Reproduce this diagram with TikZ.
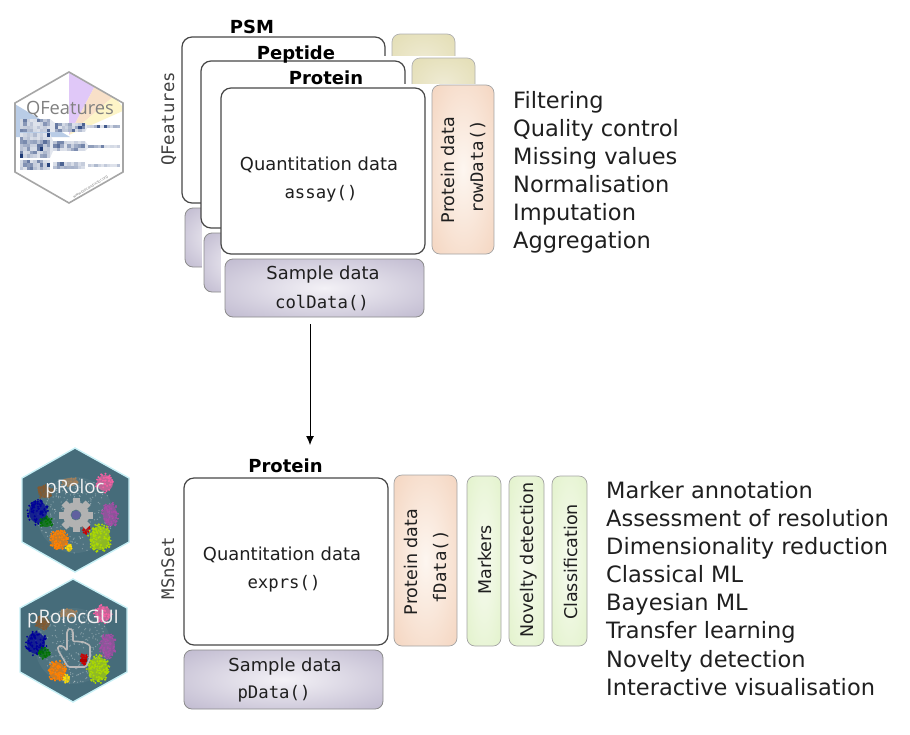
\documentclass[tikz,border=0pt]{standalone}
\usepackage{fontspec}
\setmainfont{DejaVu Sans}
\setmonofont{DejaVu Sans Mono}
\newfontfamily\logofont{Open Sans}
\usetikzlibrary{arrows.meta}
\definecolor{purpleC}{HTML}{F3F1F6}
\definecolor{purpleE}{HTML}{B3ACC6}
\definecolor{salmonC}{HTML}{FDF6F0}
\definecolor{salmonE}{HTML}{F2CDB4}
\definecolor{greenC}{HTML}{F7FBF0}
\definecolor{greenE}{HTML}{DDF0C2}
\definecolor{yellowC}{HTML}{EFEBD4}
\definecolor{yellowE}{HTML}{E0DAAC}
\definecolor{edgeG}{HTML}{8C8C8C}
\definecolor{hexblue}{HTML}{466C7A}
\definecolor{hexglow}{HTML}{C8F0F6}
\definecolor{hm}{HTML}{12306F}
\definecolor{wedgeblue}{HTML}{B9CCE6}
\definecolor{wedgepurple}{HTML}{E0C8F8}
\definecolor{wedgepeach}{HTML}{F8E0C8}
\definecolor{wedgeyellow}{HTML}{FDF5C8}
\pgfdeclareradialshading{purpleglow}{\pgfpointorigin}{color(0bp)=(purpleC); color(45bp)=(purpleE); color(100bp)=(purpleE)}
\pgfdeclareradialshading{salmonglow}{\pgfpointorigin}{color(0bp)=(salmonC); color(45bp)=(salmonE); color(100bp)=(salmonE)}
\pgfdeclareradialshading{greenglow}{\pgfpointorigin}{color(0bp)=(greenC); color(45bp)=(greenE); color(100bp)=(greenE)}
\pgfdeclareradialshading{yellowglow}{\pgfpointorigin}{color(0bp)=(yellowC); color(45bp)=(yellowE); color(100bp)=(yellowE)}
\newcommand{\fs}[1]{\fontsize{#1}{#1}\selectfont}
\newcommand{\boxat}[6]{\node[#6,minimum width={(#4-#2)*1pt},minimum height={(#5-#3)*1pt}] (#1) at ({(#2+#4)/2},{(#3+#5)/2}) {};}
\newcommand{\cells}[6]{%
  \pgfmathsetmacro{\cw}{(#2-#1)/#5}\pgfmathsetmacro{\ch}{(#4-#3)/#6}%
  \foreach \i in {1,...,#5}{\foreach \j in {1,...,#6}{%
    \pgfmathsetmacro{\rr}{int(84*abs(rnd*rnd)+14)}%
    \fill[hm!\rr!white] ({#1+(\i-1)*\cw},{#3+(\j-1)*\ch}) rectangle ++(\cw,\ch);}}%
}
\newcommand{\blob}[6]{%
  \fill[#5,opacity=.7] (#1,#2) ellipse [x radius=#3,y radius=#4];
  \foreach \k in {1,...,#6}{%
    \pgfmathsetmacro{\aa}{360*rnd}\pgfmathsetmacro{\dd}{1.2*sqrt(rnd)}%
    \fill[#5] ({#1+\dd*#3*cos(\aa)},{#2+\dd*#4*sin(\aa)}) circle (1.1);}%
}
\newcommand{\specks}[4]{%
  \fill[white,opacity=.05] (#1,#2) circle (#3);
  \foreach \k in {1,...,#4}{%
    \pgfmathsetmacro{\aa}{360*rnd}\pgfmathsetmacro{\dd}{#3*sqrt(rnd)}%
    \fill[white,opacity=.3] ({#1+\dd*cos(\aa)},{#2+\dd*sin(\aa)}) circle (.7);}%
}
\newcommand{\spectra}[2]{%
  \begin{scope}[shift={(#1,#2)}]
    \specks{0}{5}{38}{260}
    \blob{-5}{-28}{8}{4}{brown!60!gray}{20}
    \blob{-30}{-18}{7}{6}{brown!70!black}{25}
    \blob{-37}{2}{9}{11}{blue!60!black}{70}
    \blob{-29}{12}{6}{5}{green!45!black}{18}
    \blob{30}{-27}{8}{8}{magenta!50!pink}{40}
    \blob{35}{5}{7}{11}{violet!70!white}{60}
    \blob{25}{28}{10}{12}{lime!70!olive}{90}
    \blob{-16}{30}{8}{9}{orange}{70}
    \blob{-6}{38}{3}{4}{yellow!80!orange}{12}
    \blob{11}{18}{3}{5}{red!80!black}{18}
  \end{scope}%
}
\tikzset{
  x=1pt,y=-1pt,
  basebox/.style={rectangle,inner sep=0pt,outer sep=0pt,rounded corners=8pt},
  quant/.style={basebox,draw=black!72,line width=1.2pt,fill=white,rounded corners=10pt},
  sampleb/.style={basebox,draw=edgeG,line width=.8pt,shading=purpleglow},
  salmonb/.style={basebox,draw=edgeG!80,line width=.7pt,shading=salmonglow},
  greenb/.style={basebox,draw=edgeG!80,line width=.7pt,shading=greenglow},
  yellowb/.style={basebox,draw=edgeG!70,line width=.7pt,shading=yellowglow},
  mask/.style={fill=white,draw=none},
  txt/.style={inner sep=0pt,anchor=base,text=black!88},
  bold/.style={txt,font=\fs{18}\bfseries,text=black},
  maintxt/.style={txt,font=\fs{17.9}},
  sidetxt/.style={txt,font=\fs{17.5},rotate=90},
  codetxt/.style={txt,font=\fs{17.3}\ttfamily},
  codeside/.style={codetxt,rotate=90},
  listtxt/.style={inner sep=0pt,anchor=base west,text=black!88,font=\fs{22.5}},
}
\begin{document}
\begin{tikzpicture}
\useasboundingbox (0,0) rectangle (910,734);

% ---------- QFeatures stack ----------
\boxat{psm}{182}{37}{385}{203}{quant}
\boxat{psmrow}{392}{34}{455}{90}{yellowb}
\boxat{psmcol}{185}{208}{260}{267}{sampleb}
\fill[mask] (202,56) rectangle (482,300);
\node[bold] (psmlabel) at (252,33) {PSM};
\boxat{pep}{201}{61}{405}{228}{quant}
\boxat{peprow}{412}{58}{475}{110}{yellowb}
\boxat{pepcol}{204}{233}{280}{292}{sampleb}
\fill[mask] (221,84) rectangle (500,320);
\node[bold] (peplabel) at (296,59) {Peptide};
\boxat{prot}{221}{88}{425}{254}{quant}
\boxat{protrow}{432}{85}{494}{254}{salmonb}
\boxat{protcol}{225}{259}{424}{317}{sampleb}
\node[bold] (protlabel) at (326,84) {Protein};
\node[maintxt] (qt1) at (319,170) {Quantitation data};
\node[codetxt] (qt2) at (321,198) {assay()};
\node[maintxt] (st1) at (323,279) {Sample data};
\node[codetxt] (st2) at (322,308) {colData()};
\node[sidetxt] (rt1) at (454,170) {Protein data};
\node[codeside] (rt2) at (483,167) {rowData()};
\node[codeside,text=black!75] (qflabel) at (174,119) {QFeatures};

% ---------- MSnSet ----------
\boxat{quantb}{184}{478}{388}{645}{quant}
\boxat{pdatab}{184}{650}{383}{709}{sampleb}
\boxat{fdatab}{394}{475}{457}{646}{salmonb}
\boxat{markb}{467}{476}{501}{646}{greenb}
\boxat{novb}{509}{476}{544}{646}{greenb}
\boxat{classb}{552}{476}{587}{646}{greenb}
\node[bold] (protlabelb) at (285.5,472) {Protein};
\node[maintxt] (mt1) at (282,560) {Quantitation data};
\node[codetxt] (mt2) at (284,588) {exprs()};
\node[maintxt] (pt1) at (285,671) {Sample data};
\node[codetxt] (pt2) at (274,698) {pData()};
\node[sidetxt] (ft1) at (417,562) {Protein data};
\node[codeside] (ft2) at (446,567) {fData()};
\node[sidetxt] (mk) at (491,560) {Markers};
\node[sidetxt] (nv) at (533,560) {Novelty detection};
\node[sidetxt] (cl) at (577,562) {Classification};
\node[codeside,text=black!75] (mslabel) at (174,568) {MSnSet};

% ---------- connector ----------
\coordinate (arrowtip) at (310,445);
\draw[-{Latex[length=9pt,width=8pt]},line width=.9pt,shorten <=7pt] (protcol.south -| arrowtip) -- (arrowtip);

% ---------- lists ----------
\foreach \n/\y/\t in {a/108/Filtering,b/136/Quality control,c/164.5/Missing values,d/192.5/Normalisation,e/220.5/Imputation,f/248.5/Aggregation}
  \node[listtxt] (l\n) at (513,\y) {\t};
\foreach \n/\y/\t in {a/498/Marker annotation,b/526/Assessment of resolution,c/554/Dimensionality reduction,d/582/Classical ML,e/610/Bayesian ML,f/638.5/Transfer learning,g/667/Novelty detection,h/695/Interactive visualisation}
  \node[listtxt] (m\n) at (606,\y) {\t};

% ---------- QFeatures logo ----------
\pgfmathsetseed{42}
\begin{scope}
  \clip (69,72) -- (123,103) -- (123,172) -- (69,203) -- (15,172) -- (15,103) -- cycle;
  \fill[white] (0,60) rectangle (130,210);
  \fill[wedgepurple] (69,135) -- (69,70) -- (96,84) -- cycle;
  \fill[wedgepeach] (69,135) -- (96,84) -- (114,96) -- cycle;
  \fill[wedgeyellow] (69,135) -- (114,96) -- (125,110) -- cycle;
  \fill[wedgeblue] (13,103) -- (70,137) -- (13,137) -- cycle;
  \fill[hm!12!white] (50,119) -- (55,123) -- (55,132) -- (50,132) -- cycle;
  \fill[hm!12!white] (50,133) -- (53,141) -- (53,151) -- (50,158) -- cycle;
  \fill[hm!12!white] (85,141) -- (88,145) -- (88,148) -- (85,151) -- cycle;
  \fill[hm!12!white] (85,123) -- (87,125) -- (87,128) -- (85,132) -- cycle;
\end{scope}
\cells{20}{50}{119}{132}{9}{4}
\cells{20}{50}{133}{158}{9}{7}
\cells{20}{50}{160}{170}{9}{3}
\cells{55}{85}{123}{132}{9}{3}
\cells{53}{85}{141}{151}{9}{3}
\cells{53}{85}{162}{169}{9}{2}
\cells{87}{120}{125}{128}{10}{1}
\cells{88}{120}{145}{148}{10}{1}
\cells{88}{120}{164}{167}{10}{1}
\draw[line width=1.6pt,black!35] (69,72) -- (123,103) -- (123,172) -- (69,203) -- (15,172) -- (15,103) -- cycle;
\node[txt,font=\logofont\fs{18.3},text=black!50] (qflogo) at (70,114) {QFeatures};
\node[txt,font=\fs{3.6},text=black!50,rotate=31] (qfurl) at (91,188) {www.bioconductor.org};

% ---------- pRoloc logo ----------
\draw[line width=1.4pt,draw=hexglow,fill=hexblue] (75,448) -- (129,478) -- (129,542) -- (75,572) -- (22,542) -- (22,478) -- cycle;
\spectra{75}{510}
\begin{scope}[shift={(76,515)}]
  \foreach \a in {0,45,...,315}
    \fill[gray!60!white,rotate=\a] (-3.5,-17) rectangle (3.5,-9);
  \fill[even odd rule,gray!60!white] (0,0) circle (13) (0,0) circle (5.5);
  \fill[blue!25!gray] (0,0) circle (4.5);
\end{scope}
\node[txt,font=\logofont\fs{18.7},text=white!90!gray] (prlogo) at (75,493) {pRoloc};

% ---------- pRolocGUI logo ----------
\draw[line width=1.4pt,draw=hexglow,fill=hexblue] (73,579) -- (127,608) -- (127,672) -- (73,702) -- (20,672) -- (20,608) -- cycle;
\spectra{73}{641}
\draw[line width=1.6pt,gray!55!white,line join=round,rounded corners=1.5pt]
  (68,667) -- (58,650) -- (58,646) -- (63,646) -- (67,651) -- (67,631) -- (70,628) -- (73,631) -- (73,642)
  -- (77,641) -- (80,642) -- (84,642) -- (87,644) -- (90,645) -- (90,658) -- (86,667) -- cycle;
\fill[red!70!black] (80,659) rectangle (87,662);
\node[txt,font=\logofont\fs{18.7},text=white!90!gray] (pglogo) at (73,623) {pRolocGUI};
\end{tikzpicture}
\end{document}
